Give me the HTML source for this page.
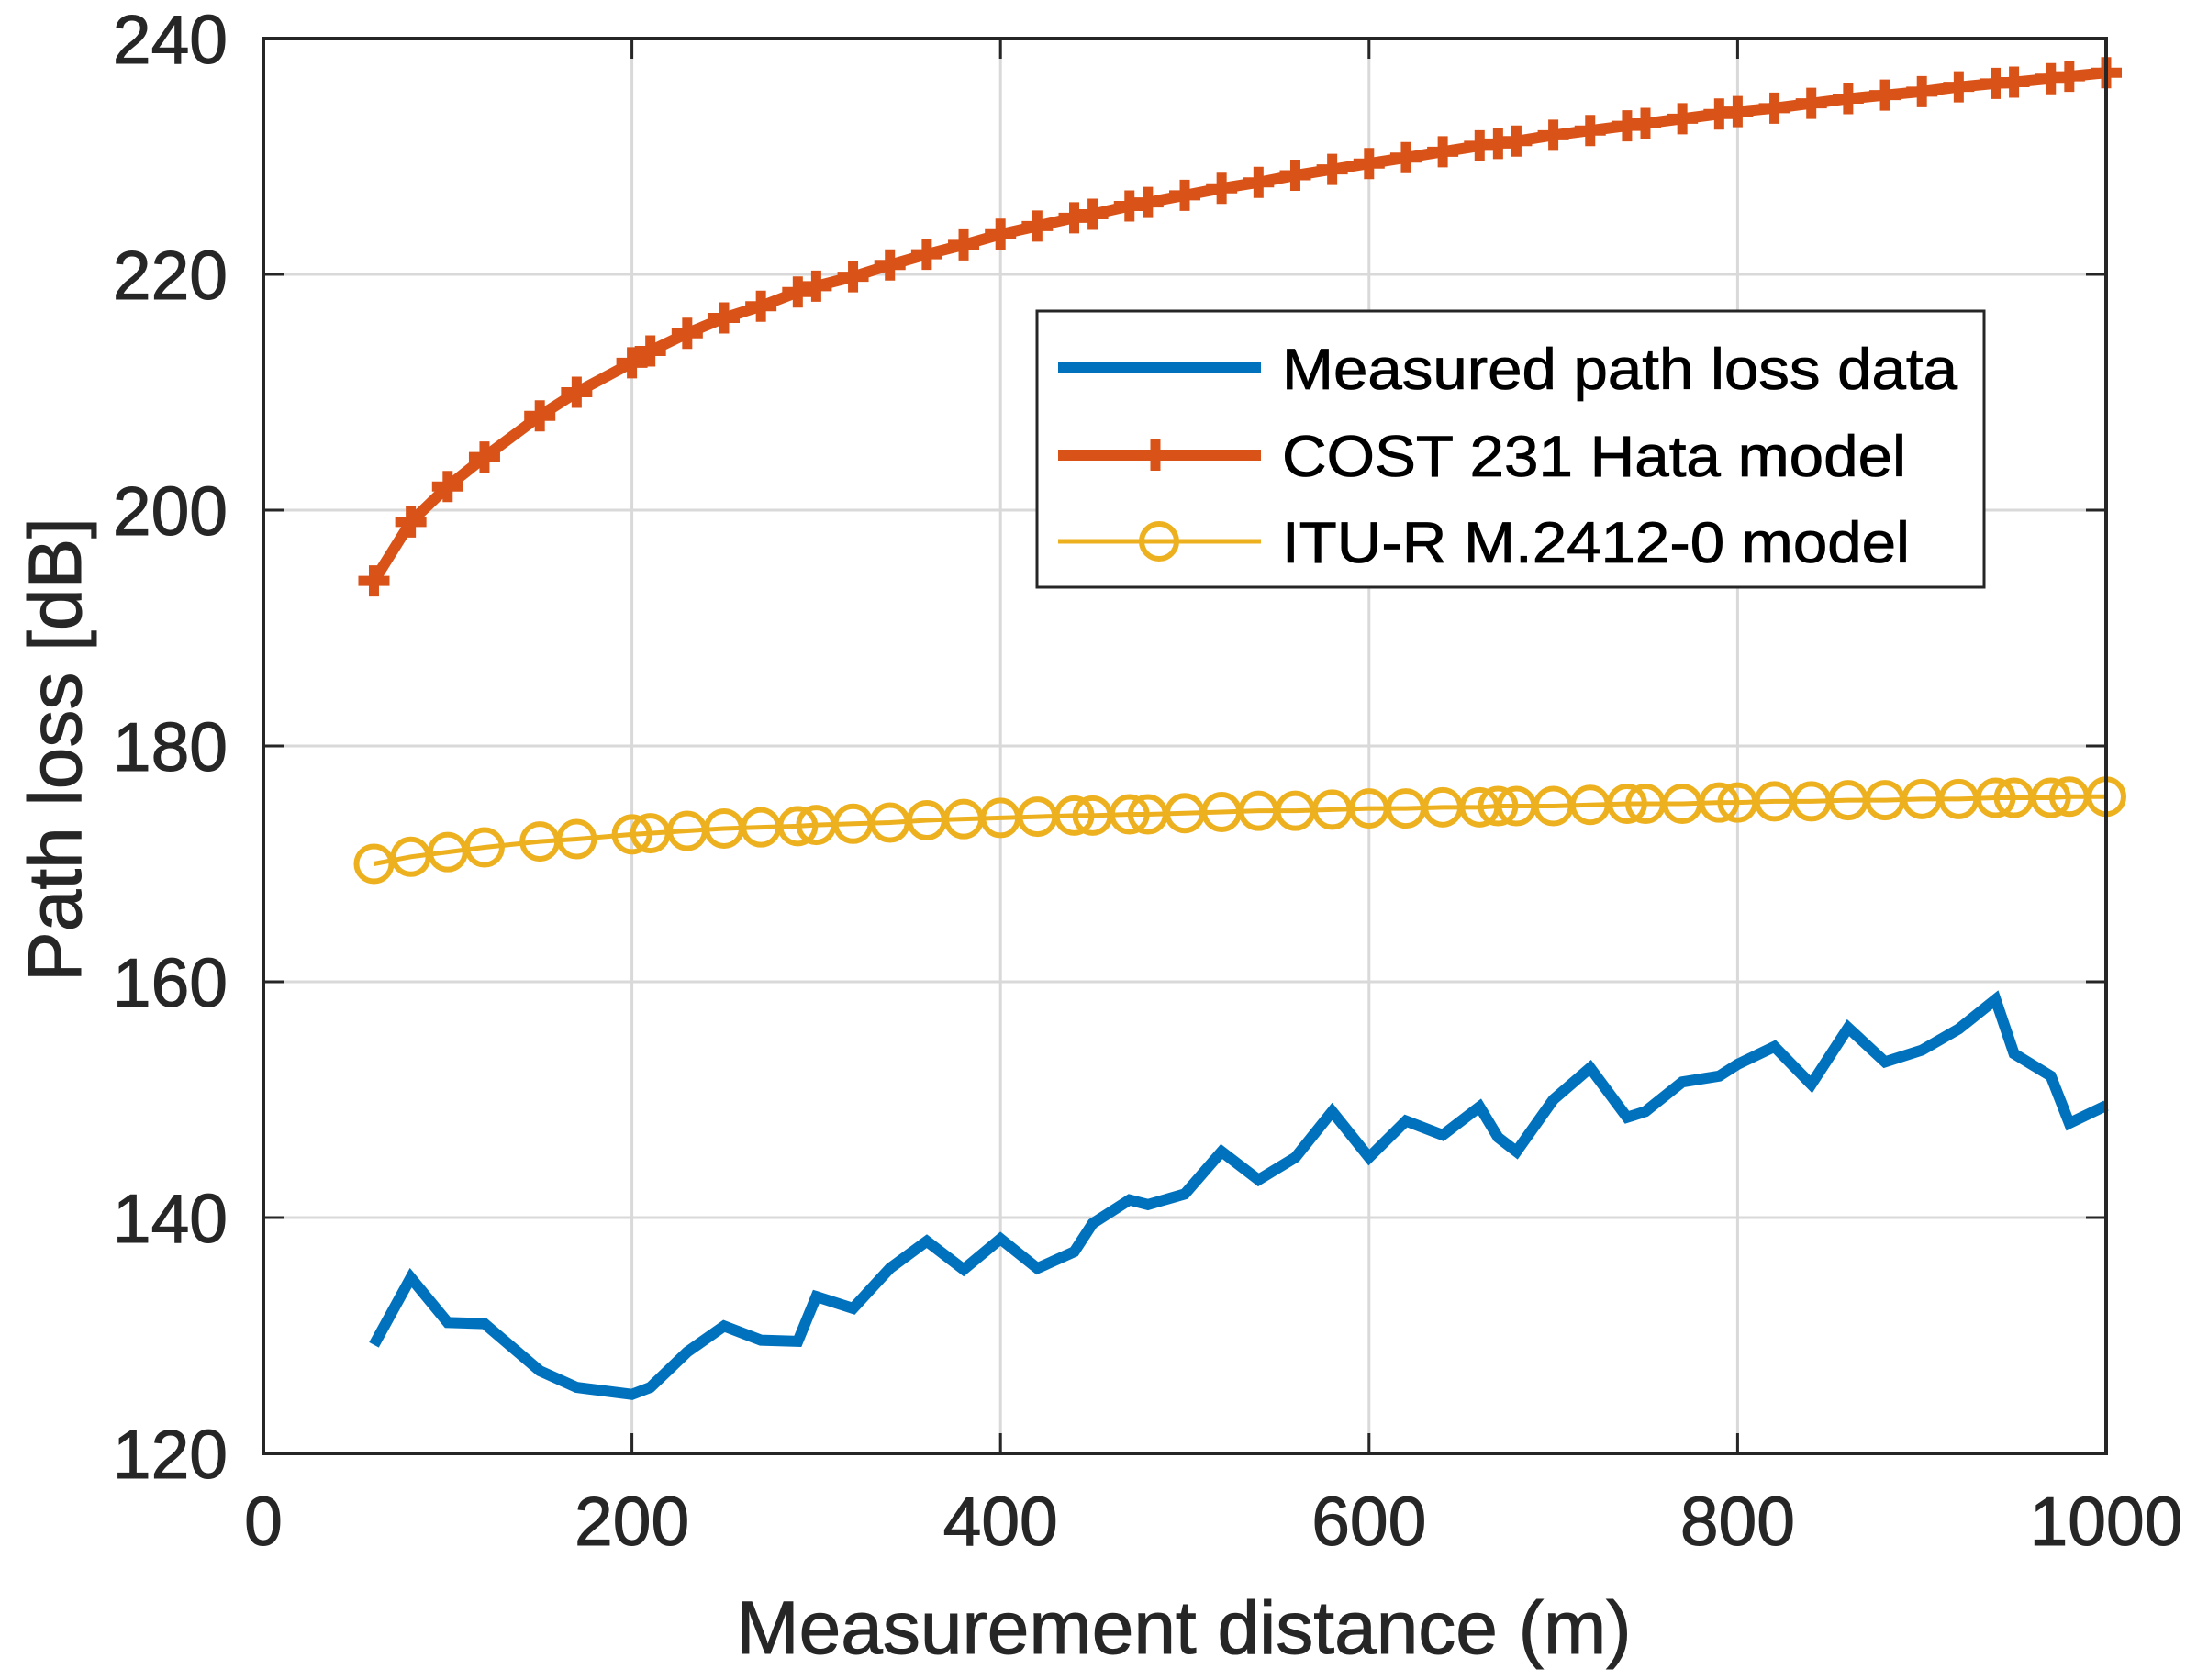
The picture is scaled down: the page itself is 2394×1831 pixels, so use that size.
<!DOCTYPE html>
<html><head><meta charset="utf-8"><style>html,body{margin:0;padding:0;background:#fff}svg{display:block}</style></head>
<body>
<svg id="chart" width="2394" height="1831" viewBox="0 0 2394 1831" xmlns="http://www.w3.org/2000/svg" font-family="Liberation Sans, Arial, sans-serif">
<rect width="2394" height="1831" fill="#fff"/>
<g id="grid"></g>
<g id="series"></g>
<g id="axes"></g>
<text x="1290" y="1802" font-size="82" text-anchor="middle" fill="#262626" stroke="#262626" stroke-width="1">Measurement distance (m)</text>
<text transform="translate(88,817) rotate(-90)" font-size="82" text-anchor="middle" fill="#262626" stroke="#262626" stroke-width="1">Path loss [dB]</text>
<g>
<rect x="1130" y="339" width="1032" height="301" fill="#fff" stroke="#262626" stroke-width="3"/>
<g>
<line x1="1153" y1="401" x2="1374" y2="401" stroke="#0072BD" stroke-width="12"/>
<text x="1397" y="424" font-size="63" fill="#000" stroke="#000" stroke-width="0.8" textLength="736" lengthAdjust="spacingAndGlyphs">Measured path loss data</text></g>
<g>
<line x1="1153" y1="496" x2="1374" y2="496" stroke="#D95319" stroke-width="12"/>
<path d="M1242 496h34M1259 479v34" stroke="#D95319" stroke-width="11"/>
<text x="1397" y="519" font-size="63" fill="#000" stroke="#000" stroke-width="0.8" textLength="680" lengthAdjust="spacingAndGlyphs">COST 231 Hata model</text></g>
<g>
<line x1="1153" y1="590" x2="1374" y2="590" stroke="#EDB120" stroke-width="5"/>
<circle cx="1263" cy="590" r="19" fill="none" stroke="#EDB120" stroke-width="6"/>
<text x="1397" y="613" font-size="63" fill="#000" stroke="#000" stroke-width="0.8" textLength="684" lengthAdjust="spacingAndGlyphs">ITU-R M.2412-0 model</text></g>
</g>
</svg>
<script>
const distances=[60,80,100,120,150,170,200,210,230,250,270,290,300,320,340,360,380,400,420,440,450,470,480,500,520,540,560,580,600,620,640,660,670,680,700,720,740,750,770,790,800,820,840,860,880,900,920,940,950,970,980,1000];
const measured=[129.2,134.9,131.1,131,127,125.6,125.0,125.6,128.6,130.8,129.6,129.5,133.3,132.3,135.7,138,135.6,138.2,135.7,137.1,139.5,141.5,141.1,142,145.6,143.2,145.1,149,145.1,148.2,147,149.4,146.8,145.6,150,152.7,148.5,149,151.5,152,153,154.5,151.3,156.1,153.2,154.2,156,158.5,153.9,152,148,149.5];
const cost231=[194,199,202,204.5,208,210,212.5,213.5,215,216.3,217.3,218.5,219,219.8,220.8,221.7,222.5,223.4,224.1,224.8,225.1,225.8,226.1,226.7,227.3,227.8,228.4,228.9,229.4,229.9,230.4,230.9,231.1,231.3,231.8,232.2,232.6,232.8,233.2,233.6,233.8,234.1,234.5,234.9,235.2,235.5,235.9,236.2,236.3,236.6,236.8,237.1];
const itu=[170,170.6,171,171.4,171.9,172.1,172.5,172.6,172.8,173,173.1,173.2,173.3,173.4,173.5,173.7,173.8,173.9,174,174.1,174.1,174.2,174.2,174.3,174.4,174.5,174.5,174.6,174.7,174.7,174.8,174.8,174.9,174.9,174.9,175,175.1,175.1,175.1,175.2,175.2,175.3,175.3,175.4,175.4,175.5,175.5,175.6,175.6,175.6,175.7,175.7];
const xTicks=[0,200,400,600,800,1000];
const yTicks=[120,140,160,180,200,220,240];
const L=287,R=2295,T=42,B=1584;
const sx=v=>L+(v-0)/1000*(R-L);
const sy=v=>B-(v-120)/120*(B-T);
const NS='http://www.w3.org/2000/svg';
function mk(tag,attrs,parent){const e=document.createElementNS(NS,tag);for(const k in attrs)e.setAttribute(k,attrs[k]);parent.appendChild(e);return e;}
const grid=document.getElementById('grid'),axes=document.getElementById('axes'),series=document.getElementById('series');
xTicks.forEach(t=>{
 const g=mk('line',{x1:sx(t),x2:sx(t),y1:T,y2:B,stroke:'#d9d9d9','stroke-width':3},grid);
 
 
 const tk=mk('line',{x1:sx(t),x2:sx(t),y1:B,y2:B-22,stroke:'#262626','stroke-width':3},axes);
 
 
 const tk2=mk('line',{x1:sx(t),x2:sx(t),y1:T,y2:T+22,stroke:'#262626','stroke-width':3},axes);
 
 
 const lb=mk('text',{x:sx(t),y:1684,'font-size':75,'text-anchor':'middle',fill:'#262626',stroke:'#262626','stroke-width':1},axes);
 lb.textContent=t;
 
 
});
yTicks.forEach(t=>{
 const g=mk('line',{x1:L,x2:R,y1:sy(t),y2:sy(t),stroke:'#d9d9d9','stroke-width':3},grid);
 
 
 const tk=mk('line',{x1:L,x2:L+22,y1:sy(t),y2:sy(t),stroke:'#262626','stroke-width':3},axes);
 
 
 const tk2=mk('line',{x1:R,x2:R-22,y1:sy(t),y2:sy(t),stroke:'#262626','stroke-width':3},axes);
 
 
 const lb=mk('text',{x:248,y:sy(t)+27,'font-size':75,'text-anchor':'end',fill:'#262626',stroke:'#262626','stroke-width':1},axes);
 lb.textContent=t;
 
 
});
const box=mk('rect',{x:L,y:T,width:R-L,height:B-T,fill:'none',stroke:'#262626','stroke-width':4},axes);


function pts(arr){return distances.map((d,i)=>sx(d)+','+sy(arr[i])).join(' ');}
const l1=mk('polyline',{points:pts(measured),fill:'none',stroke:'#0072BD','stroke-width':12,'stroke-linejoin':'miter'},series);


const l3=mk('polyline',{points:pts(itu),fill:'none',stroke:'#EDB120','stroke-width':5},series);


distances.forEach((d,i)=>{
 const c=mk('circle',{cx:sx(d),cy:sy(itu[i]),r:19,fill:'none',stroke:'#EDB120','stroke-width':6},series);
 
 
});
const l2=mk('polyline',{points:pts(cost231),fill:'none',stroke:'#D95319','stroke-width':12},series);


distances.forEach((d,i)=>{
 const x=sx(d),y=sy(cost231[i]);
 const p=mk('path',{d:`M${x-17} ${y}h34M${x} ${y-17}v34`,stroke:'#D95319','stroke-width':11},series);
 
 
});
</script>
</body></html>
